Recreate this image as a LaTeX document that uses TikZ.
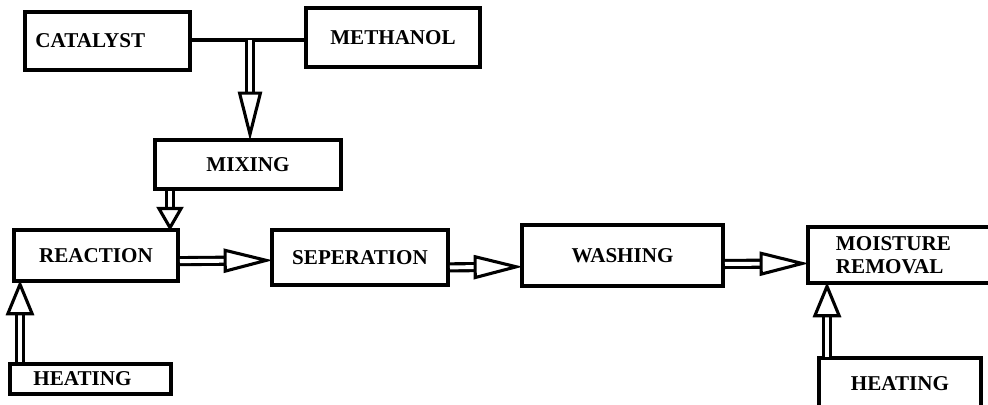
\documentclass[tikz,border=0pt]{standalone}
\usepackage{fontspec}
\setmainfont{Liberation Serif}
\usetikzlibrary{arrows.meta, positioning}

\tikzset{
  stage/.style={draw, line width=2.8pt, rectangle, inner sep=2pt,
    font=\fontsize{15}{16}\selectfont\bfseries},
  flow/.style={double, double distance=2.8pt, line width=2.2pt, shorten >=-2pt,
    -{Triangle[open, length=35pt, width=17pt, line width=2.2pt]}},
  shortflow/.style={flow, -{Triangle[open, length=17pt, width=19pt, line width=2.2pt]}},
  heatflow/.style={flow, -{Triangle[open, length=25pt, width=20pt, line width=2.2pt]}}
}

\begin{document}
\begin{tikzpicture}[x=0.025cm, y=-0.025cm]
  \useasboundingbox (0,0) rectangle (988,404);

  \node[stage, minimum width=41.25mm, minimum height=14.5mm, text width=36mm, align=left] (catalyst) at (107.5,41) {CATALYST};
  \node[stage, minimum width=43.5mm, minimum height=14.75mm] (methanol) at (393,37.5) {METHANOL};
  \node[stage, minimum width=46.5mm, minimum height=12.25mm] (mixing) at (248,164.5) {MIXING};
  \node[stage, minimum width=41mm, minimum height=12.75mm] (reaction) at (96,255.5) {REACTION};
  \node[stage, minimum width=44mm, minimum height=13.75mm] (seperation) at (360,257.5) {SEPERATION};
  \node[stage, minimum width=50.25mm, minimum height=15.25mm] (washing) at (622.5,255.5) {WASHING};
  \node[stage, minimum width=50mm, minimum height=14mm, text width=44mm, align=left] (moisture) at (908,255) {\hspace*{4mm}MOISTURE\\\hspace*{4mm}REMOVAL};
  \node[stage, minimum width=40.25mm, minimum height=7.5mm] (heatA) at (90.5,379) {\hspace*{-4mm}HEATING};
  \node[stage, minimum width=40.5mm, minimum height=13mm] (heatB) at (900,384) {HEATING\\[-4mm]};

  % feed line and junction
  \coordinate (feed) at (250,40);
  \draw[line width=2.6pt] (catalyst.east |- feed) -- (methanol.west |- feed);
  \draw[flow] (feed) -- (feed |- mixing.north);

  % main line
  \coordinate (mixout) at (170,191);
  \draw[shortflow] (mixout) -- (mixout |- reaction.north);
  \draw[flow] ([yshift=-4pt]reaction.east) -- ([yshift=-2pt]seperation.west);
  \draw[flow] ([yshift=-7pt]seperation.east) -- ([yshift=-8pt]washing.west);
  \draw[flow] ([yshift=-6pt]washing.east) -- ([yshift=-6pt]moisture.west);

  % heating
  \coordinate (heatAout) at (20,362);
  \draw[heatflow] (heatAout) -- (heatAout |- reaction.south);
  \coordinate (heatBout) at (827,357);
  \draw[heatflow] (heatBout) -- (heatBout |- moisture.south);
\end{tikzpicture}
\end{document}
